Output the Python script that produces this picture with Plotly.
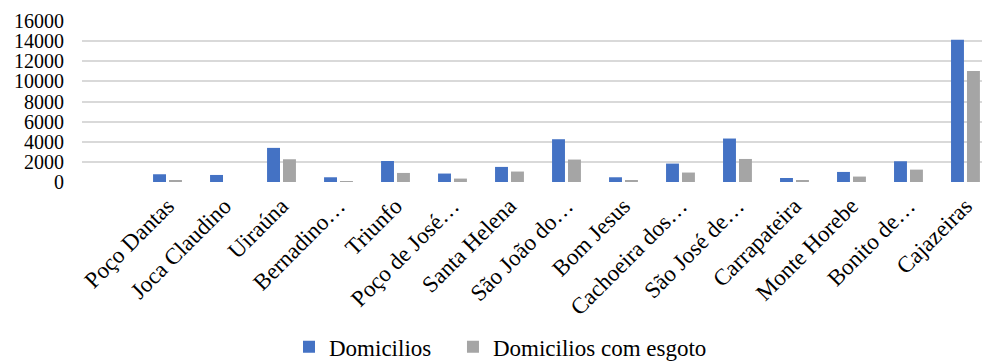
import plotly.graph_objects as go

municipios = [
    "Poço Dantas", "Joca Claudino", "Uiraúna", "Bernadino…", "Triunfo",
    "Poço de José…", "Santa Helena", "São João do…", "Bom Jesus",
    "Cachoeira dos…", "São José de…", "Carrapateira", "Monte Horebe",
    "Bonito de…", "Cajazeiras",
]
domicilios = [770, 700, 3390, 470, 2090, 840, 1500, 4250, 470, 1830, 4320, 400, 1000, 2060, 14140]
domicilios_esgoto = [150, 0, 2260, 70, 900, 340, 1040, 2230, 170, 940, 2290, 170, 540, 1230, 11030]
y_ticks = [0, 2000, 4000, 6000, 8000, 10000, 12000, 14000, 16000]

FONT = "Liberation Serif"

fig = go.Figure()
fig.add_trace(go.Bar(x=municipios, y=domicilios, name="Domicilios", legend="legend",
                     marker=dict(color="#4472C4", line=dict(width=0))))
fig.add_trace(go.Bar(x=municipios, y=domicilios_esgoto, name="Domicilios com esgoto",
                     legend="legend2",
                     marker=dict(color="#A5A5A5", line=dict(width=0))))

legend_common = dict(orientation="h", xanchor="left", yref="container", y=0.042,
                     yanchor="middle", bgcolor="rgba(0,0,0,0)",
                     font=dict(family=FONT, size=23, color="black"))

fig.update_layout(
    width=982, height=362,
    margin=dict(l=82, r=0, t=21, b=180, autoexpand=False),
    paper_bgcolor="white", plot_bgcolor="white",
    barmode="group", bargap=0.44, bargroupgap=0.19,
    font=dict(family=FONT, size=21, color="black"),
    showlegend=True,
    legend=dict(x=0.23, **legend_common),
    legend2=dict(x=0.4122, **legend_common),
    xaxis=dict(type="category", range=[-1.5, 14.29], tickangle=-45,
               showgrid=False, zeroline=False, showline=False, ticks="",
               ticklabelstandoff=5,
               tickfont=dict(family=FONT, size=23, color="black")),
    yaxis=dict(range=[0, 16000], tickvals=y_ticks, tickformat="d", showgrid=True,
               gridcolor="#D9D9D9", gridwidth=1.5, zeroline=False, showline=False,
               ticks="", ticklabelstandoff=17,
               tickfont=dict(family=FONT, size=20, color="black")),
)

fig.write_html("out.html")
